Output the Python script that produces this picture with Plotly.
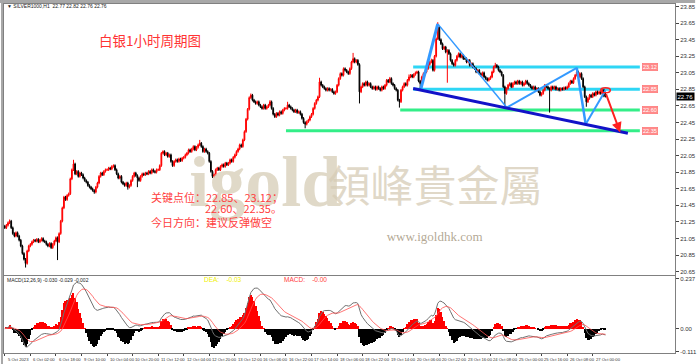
import pandas as pd
import plotly.graph_objects as go

# ---------------- data ----------------
symbol_title = "▼ SILVER1000,H1  22.77 22.82 22.76 22.76"

closes = [
    21.18, 21.21, 21.24, 21.26, 21.18, 21.11, 21.08, 21.12, 21.08, 21.03, 20.96, 20.87, 20.80, 20.75, 20.90, 20.96,
    20.98, 21.01, 21.03, 21.02, 21.04, 21.01, 21.03, 21.05, 21.02, 21.01, 20.98, 20.96, 20.99, 20.94, 20.98, 21.02,
    21.06, 21.01, 21.11, 21.26, 21.42, 21.55, 21.52, 21.57, 21.59, 21.77, 21.88, 21.95, 21.83, 21.86, 21.80, 21.84,
    21.82, 21.78, 21.75, 21.73, 21.69, 21.67, 21.65, 21.63, 21.61, 21.67, 21.72, 21.80, 21.84, 21.82, 21.86, 21.88,
    21.88, 21.90, 21.89, 21.92, 21.93, 21.88, 21.83, 21.78, 21.80, 21.73, 21.71, 21.69, 21.72, 21.67, 21.69, 21.75,
    21.80, 21.84, 21.81, 21.78, 21.75, 21.80, 21.83, 21.82, 21.84, 21.83, 21.86, 21.84, 21.88, 21.86, 21.85, 21.88,
    21.88, 21.93, 22.08, 22.10, 22.06, 22.08, 22.04, 22.06, 21.98, 21.93, 21.98, 22.00, 21.98, 22.01, 21.99, 22.02,
    22.03, 22.06, 22.08, 22.12, 22.10, 22.13, 22.16, 22.12, 22.15, 22.18, 22.20, 22.16, 22.10, 22.13, 22.10, 22.08,
    21.98, 21.86, 21.80, 21.82, 21.88, 21.90, 21.88, 21.92, 21.94, 21.92, 21.96, 21.94, 21.96, 22.00, 21.98, 22.03,
    22.06, 22.10, 22.13, 22.18, 22.16, 22.24, 22.34, 22.49, 22.61, 22.75, 22.78, 22.72, 22.70, 22.68, 22.70, 22.66,
    22.64, 22.62, 22.66, 22.62, 22.64, 22.66, 22.70, 22.62, 22.55, 22.52, 22.56, 22.54, 22.58, 22.56, 22.60, 22.62,
    22.62, 22.66, 22.64, 22.62, 22.60, 22.58, 22.60, 22.57, 22.58, 22.55, 22.50, 22.45, 22.43, 22.46, 22.48, 22.52,
    22.55, 22.62, 22.68, 22.72, 22.76, 22.94, 22.90, 22.88, 22.86, 22.84, 22.86, 22.84, 22.85, 22.82, 22.80, 22.82,
    22.90, 22.98, 23.04, 23.02, 23.10, 23.08, 23.06, 23.04, 23.10, 23.18, 23.22, 23.18, 23.20, 23.15, 22.82, 22.88,
    22.92, 22.90, 22.94, 22.90, 22.92, 22.88, 22.86, 22.88, 22.85, 22.88, 22.86, 22.84, 22.88, 22.86, 22.90, 22.96,
    22.94, 22.98, 22.92, 22.90, 22.86, 22.84, 22.72, 22.70, 22.84, 22.88, 22.92, 22.90, 22.96, 23.00, 23.02, 23.00,
    23.03, 23.05, 23.06, 22.95, 22.92, 23.00, 23.04, 23.06, 23.10, 23.15, 23.18, 23.20, 23.08, 23.25, 23.46, 23.60,
    23.45, 23.40, 23.34, 23.36, 23.30, 23.32, 23.28, 23.20, 23.16, 23.14, 23.20, 23.25, 23.28, 23.24, 23.26, 23.22,
    23.22, 23.18, 23.20, 23.14, 23.16, 23.12, 23.10, 23.06, 23.08, 23.04, 23.02, 23.05, 23.00, 22.98, 22.96, 22.98,
    23.00, 23.06, 23.12, 23.14, 23.12, 23.08, 23.06, 23.02, 22.88, 22.80, 22.86, 22.90, 22.92, 22.88, 22.92, 22.94,
    22.92, 22.95, 22.92, 22.94, 22.90, 22.92, 22.95, 22.92, 22.90, 22.88, 22.86, 22.88, 22.85, 22.86, 22.82, 22.78,
    22.80, 22.84, 22.90, 22.88, 22.86, 22.84, 22.88, 22.86, 22.88, 22.85, 22.86, 22.84, 22.86, 22.85, 22.87, 22.86,
    22.88, 22.92, 22.95, 22.93, 22.98, 23.02, 23.06, 23.00, 23.04, 22.98, 22.88, 22.76, 22.70, 22.74, 22.78, 22.76,
    22.80, 22.78, 22.82, 22.80, 22.82, 22.80, 22.84, 22.77, 22.76,
]
first_open = 21.20
wick = 0.015  # ordinary shadow length beyond the body

high_bars = [3, 43, 122, 154, 166, 177, 197, 218, 241, 253, 267, 271, 307, 358, 376]
high_vals = [21.28, 22.00, 22.24, 22.80, 22.72, 22.70, 22.99, 23.29, 23.00, 23.03, 23.22, 23.66, 23.17, 23.11, 22.82]
low_bars = [13, 33, 56, 77, 83, 130, 188, 222, 247, 260, 277, 313, 341, 364]
low_vals = [20.70, 20.79, 21.59, 21.64, 21.67, 21.78, 22.38, 22.68, 22.63, 22.86, 22.93, 22.65, 22.57, 22.64]

date_labels = ["5 Oct 2023", "6 Oct 02:00", "6 Oct 18:00", "9 Oct 10:00", "10 Oct 04:00", "10 Oct 20:00",
               "11 Oct 12:00", "12 Oct 04:00", "12 Oct 20:00", "13 Oct 12:00", "16 Oct 06:00", "16 Oct 22:00",
               "17 Oct 14:00", "18 Oct 06:00", "18 Oct 22:00", "19 Oct 14:00", "20 Oct 06:00", "20 Oct 22:00",
               "23 Oct 16:00", "24 Oct 08:00", "25 Oct 00:00", "25 Oct 16:00", "26 Oct 08:00", "27 Oct 00:00"]
bars_per_label = 16

price_ticks = [20.65, 20.85, 21.05, 21.25, 21.45, 21.65, 21.85, 22.05, 22.25, 22.45,
               22.65, 22.85, 23.05, 23.25, 23.45, 23.65, 23.85]
macd_ticks = [0.237, 0.0, -0.111]
macd_ticktext = ["0.237", "0.00", "-0.111"]

key_levels = [23.12, 22.85, 22.60, 22.35]
key_level_start = [255.6, 255.6, 247.5, 176.0]
key_level_colors = ["#2ed6f5", "#2ed6f5", "#33ee88", "#33ee88"]
level_end = 397.5

trend_x = [255.6, 390.0]
trend_y = [22.86, 22.32]
zig_x = [260.5, 271.0, 314.2, 358.0, 363.6, 376.0]
zig_y = [22.86, 23.64, 22.63, 23.11, 22.43, 22.84]
zig_w = [3, 1.5, 2, 2.5, 2]
arrow_from = (376.0, 22.81)
arrow_to = (385.2, 22.33)
last_price = 22.76

# ---------------- candles ----------------
n = len(closes)
idx = list(range(n))
opens = [first_open] + closes[:-1]
highs = [max(o, c) + wick for o, c in zip(opens, closes)]
lows = [min(o, c) - wick for o, c in zip(opens, closes)]
for b, v in zip(high_bars, high_vals):
    highs[b] = v
for b, v in zip(low_bars, low_vals):
    lows[b] = min(lows[b], v)
lows[-1] = 22.76

s = pd.Series(closes)
dif = s.ewm(span=12, adjust=False).mean() - s.ewm(span=26, adjust=False).mean()
dea = dif.ewm(span=9, adjust=False).mean()
hist = 2 * (dif - dea)

fig = go.Figure()

# watermark (under the candles)
wm_color = "rgba(214,204,182,0.75)"
fig.add_trace(go.Scatter(x=[115.5], y=[21.66], mode="text", text=["igold"], textposition="middle right",
                         textfont=dict(family="Liberation Serif", size=72, color=wm_color, weight="bold"),
                         hoverinfo="skip", showlegend=False, xaxis="x", yaxis="y"))
fig.add_trace(go.Scatter(x=[202], y=[21.62], mode="text", text=["領峰貴金屬"], textposition="middle right",
                         textfont=dict(family="Noto Sans CJK TC", size=43, color=wm_color),
                         hoverinfo="skip", showlegend=False, xaxis="x", yaxis="y"))
fig.add_trace(go.Scatter(x=[239], y=[21.06], mode="text", text=["www.igoldhk.com"], textposition="middle right",
                         textfont=dict(family="Liberation Serif", size=13, color="rgba(160,145,120,0.8)"),
                         hoverinfo="skip", showlegend=False, xaxis="x", yaxis="y"))

fig.add_trace(go.Candlestick(
    x=idx, open=opens, high=highs, low=lows, close=closes,
    increasing=dict(line=dict(color="#ff0000", width=1), fillcolor="#ff0000"),
    decreasing=dict(line=dict(color="#000000", width=1), fillcolor="#000000"),
    whiskerwidth=0, showlegend=False, hoverinfo="skip", xaxis="x", yaxis="y"))

# zigzag
for i in range(len(zig_x) - 1):
    fig.add_trace(go.Scatter(x=zig_x[i:i + 2], y=zig_y[i:i + 2], mode="lines",
                             line=dict(color="#3399ff", width=zig_w[i]), hoverinfo="skip",
                             showlegend=False, xaxis="x", yaxis="y"))

# MACD
fig.add_trace(go.Bar(x=idx, y=hist, marker=dict(color=["#ff0000" if v >= 0 else "#000000" for v in hist],
                                                 line=dict(width=0)),
                     width=0.7, showlegend=False, hoverinfo="skip", xaxis="x2", yaxis="y2"))
fig.add_trace(go.Scatter(x=idx, y=dif, mode="lines", line=dict(color="#707070", width=1),
                         showlegend=False, hoverinfo="skip", xaxis="x2", yaxis="y2"))
fig.add_trace(go.Scatter(x=idx, y=dea, mode="lines", line=dict(color="#ff5050", width=0.8),
                         showlegend=False, hoverinfo="skip", xaxis="x2", yaxis="y2"))

shapes = []
for lv, x0, col in zip(key_levels, key_level_start, key_level_colors):
    shapes.append(dict(type="line", xref="x", yref="y", x0=x0, x1=level_end, y0=lv, y1=lv,
                       line=dict(color=col, width=3), layer="below"))
shapes.append(dict(type="line", xref="x", yref="y", x0=trend_x[0], x1=trend_x[1], y0=trend_y[0], y1=trend_y[1],
                   line=dict(color="#1212c8", width=3)))
shapes.append(dict(type="circle", xref="x", yref="y", x0=373, x1=379, y0=22.81, y1=22.87,
                   line=dict(color="#ff2020", width=1.5)))
# window frame
shapes.append(dict(type="rect", xref="paper", yref="paper", x0=-0.01, x1=1.03, y0=1.003, y1=1.02,
                   fillcolor="#a8a8a8", line=dict(width=0)))
shapes.append(dict(type="rect", xref="paper", yref="paper", x0=-0.0045, x1=-0.0015, y0=-0.04, y1=1.02,
                   fillcolor="#a8a8a8", line=dict(width=0)))

ann = []
ann.append(dict(x=arrow_to[0], y=arrow_to[1], ax=arrow_from[0], ay=arrow_from[1], xref="x", yref="y",
                axref="x", ayref="y", text="", showarrow=True, arrowhead=2, arrowsize=1, arrowwidth=2,
                arrowcolor="#ff2020"))
for lv in key_levels:
    ann.append(dict(x=403.7, y=lv, xref="x", yref="y", text=f"{lv:.2f}", showarrow=False,
                    font=dict(family="Liberation Sans", size=5.5, color="#ffffff"),
                    bgcolor="#ff8a8a", bordercolor="#ff6a6a", borderwidth=0.5, borderpad=0.5))
ann.append(dict(x=1.0015, y=last_price, xref="paper", yref="y", xanchor="left", text=f"{last_price:.2f}",
                showarrow=False, font=dict(family="Liberation Sans", size=6, color="#ffffff"),
                bgcolor="#000000", borderpad=0.5))
for k, lab in enumerate(date_labels):
    ann.append(dict(x=k * bars_per_label + 0.5, y=-0.006, xref="x2", yref="paper", xanchor="left", yanchor="top",
                    text=lab, showarrow=False, font=dict(family="Liberation Sans", size=4.2, color="#333333")))
ann.append(dict(x=0.002, y=0.995, xref="paper", yref="paper", xanchor="left", yanchor="middle",
                text=symbol_title, showarrow=False, font=dict(family="Liberation Sans", size=5, color="#222222")))
ann.append(dict(x=0.1382, y=0.8968, xref="paper", yref="paper", xanchor="left", yanchor="middle",
                text="白银1小时周期图", showarrow=False,
                font=dict(family="Noto Sans CJK SC", size=13.5, color="#ff3333")))
ann.append(dict(x=0.2162, y=0.447, xref="paper", yref="paper", xanchor="left", yanchor="middle",
                text="关键点位：22.85、23.12；", showarrow=False,
                font=dict(family="Noto Sans CJK SC", size=11, color="#ff4040")))
ann.append(dict(x=0.2970, y=0.4155, xref="paper", yref="paper", xanchor="left", yanchor="middle",
                text="22.60、22.35。", showarrow=False,
                font=dict(family="Noto Sans CJK SC", size=11, color="#ff4040")))
ann.append(dict(x=0.2162, y=0.3754, xref="paper", yref="paper", xanchor="left", yanchor="middle",
                text="今日方向：建议反弹做空", showarrow=False,
                font=dict(family="Noto Sans CJK SC", size=11, color="#ff4040")))
ann.append(dict(x=0.0015, y=0.2092, xref="paper", yref="paper", xanchor="left", yanchor="middle",
                text="MACD(12,26,9) -0.030 -0.029 -0.002", showarrow=False,
                font=dict(family="Liberation Sans", size=5, color="#222222")))
ann.append(dict(x=0.2956, y=0.2092, xref="paper", yref="paper", xanchor="left", yanchor="middle",
                text="DEA:    -0.03", showarrow=False,
                font=dict(family="Liberation Sans", size=6.5, color="#f0f000")))
ann.append(dict(x=0.4147, y=0.2092, xref="paper", yref="paper", xanchor="left", yanchor="middle",
                text="MACD:    -0.00", showarrow=False,
                font=dict(family="Liberation Sans", size=6.5, color="#ff4040")))

axis_line = "#808080"
fig.update_layout(
    width=700, height=364, margin=dict(l=3, r=17, t=4, b=11),
    paper_bgcolor="#ffffff", plot_bgcolor="#ffffff", showlegend=False, bargap=0,
    xaxis=dict(domain=[0, 1], range=[-0.5, 419.5], anchor="y", showticklabels=False, showgrid=False,
               zeroline=False, showline=True, linecolor=axis_line, mirror=True, ticks="",
               rangeslider=dict(visible=False)),
    yaxis=dict(domain=[0.2235, 1], range=[20.61, 23.88], side="right", tickvals=price_ticks,
               ticktext=[f"{v:.2f}" for v in price_ticks], ticks="outside", ticklen=3, tickcolor="#444444",
               tickfont=dict(family="Liberation Sans", size=6, color="#333333"), showgrid=False,
               zeroline=False, showline=True, linecolor=axis_line, mirror=True, anchor="x"),
    xaxis2=dict(domain=[0, 1], range=[-0.5, 419.5], anchor="y2", matches="x", showticklabels=False,
                tickvals=[k * bars_per_label for k in range(len(date_labels))], ticks="outside", ticklen=2,
                tickcolor="#444444", showgrid=False, zeroline=False, showline=True, linecolor=axis_line,
                mirror=True),
    yaxis2=dict(domain=[0, 0.2206], range=[-0.116, 0.251], side="right", tickvals=macd_ticks,
                ticktext=macd_ticktext, ticks="outside", ticklen=3, tickcolor="#444444",
                tickfont=dict(family="Liberation Sans", size=6, color="#333333"), showgrid=False,
                zeroline=False, showline=True, linecolor=axis_line, mirror=True, anchor="x2"),
    shapes=shapes, annotations=ann,
)

fig.write_html("out.html")
